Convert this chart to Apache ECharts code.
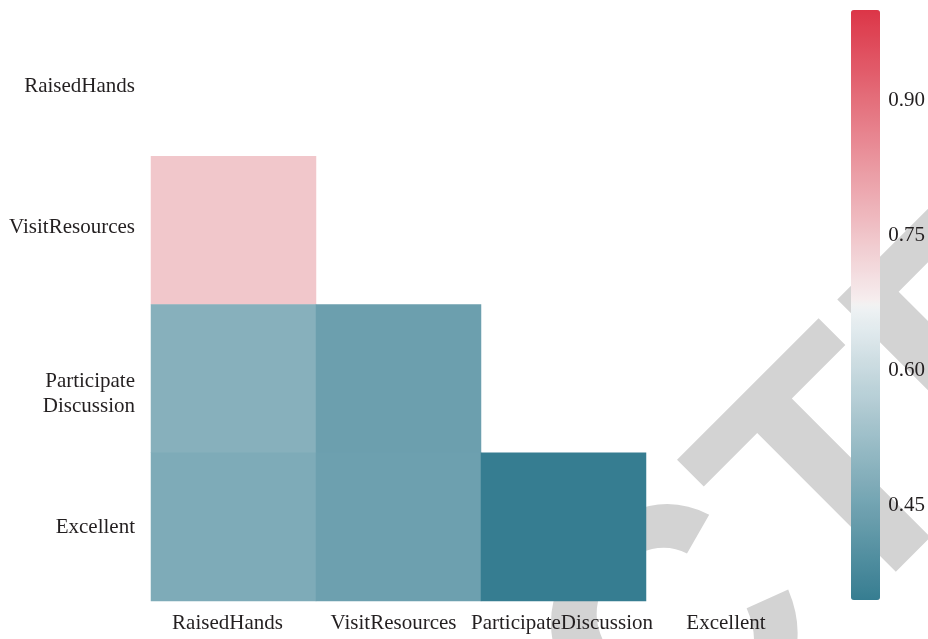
<!DOCTYPE html>
<html>
<head>
<meta charset="utf-8">
<script src="https://cdn.jsdelivr.net/npm/echarts@6/dist/echarts.min.js"></script>
<style>
  html, body { margin: 0; padding: 0; background: #ffffff; }
  #chart { width: 928px; height: 639px; }
</style>
</head>
<body>
<div id="chart"></div>
<script>
// Feature names on the two axes
const colLabels = ['RaisedHands', 'VisitResources', 'ParticipateDiscussion', 'Excellent'];
const rowLabels = ['RaisedHands', 'VisitResources', 'Participate\nDiscussion', 'Excellent'];

// Lower triangle of the correlation matrix, one array per row (row 0 is fully masked)
const rowVisitResources        = [0.746];
const rowParticipateDiscussion = [0.487, 0.439];
const rowExcellent             = [0.471, 0.442, 0.345];

// Colour scale range and the ticks shown beside the colour bar
const scaleMin = 0.345;
const scaleMax = 1.0;
const scaleTicks = [0.45, 0.60, 0.75, 0.90];

const lowerRows = [[], rowVisitResources, rowParticipateDiscussion, rowExcellent];
const cells = [];
lowerRows.forEach((vals, r) => vals.forEach((v, c) => cells.push([c, r, v])));

// Diverging blue - light - red ramp (blended linearly on each side of the light centre)
function hexToRgb(h) { return [1, 3, 5].map(i => parseInt(h.slice(i, i + 2), 16)); }
function rgbToHex(c) { return '#' + c.map(v => Math.round(v).toString(16).padStart(2, '0')).join(''); }
function ramp(a, b, n) {
  const A = hexToRgb(a), B = hexToRgb(b), out = [];
  for (let i = 0; i < n; i++) {
    const t = i / (n - 1);
    out.push(rgbToHex(A.map((v, k) => v + (B[k] - v) * t)));
  }
  return out;
}
const steps = 64;
const rampColors = []
  .concat(ramp('#367d91', '#eef2f4', steps))
  .concat(['#f2f2f2'])
  .concat(ramp('#f6eeef', '#dc3547', steps));

const textColor = '#231f20';
const labelFont = 'Liberation Serif';
const labelSize = 21;

// small per-label nudges (padding) for the tick labels
const colLabelPad = [[0, 12, 0, 0], [0, 10, 0, 0], [0, 3, 0, 0], [0, 5, 0, 0]];
const rowLinePad = [
  [[9, 0, 0, 0]],
  [[0, 0, 5, 0]],
  [[30, 0, 0, 0], [30, 0, 0, 0]],
  [[1, 0, 0, 0]]
];
const rowRich = {};
rowLinePad.forEach((lines, i) => lines.forEach((pad, k) => {
  rowRich['r' + i + '_' + k] = {
    color: textColor, fontFamily: labelFont, fontSize: labelSize, lineHeight: 25, padding: pad, align: 'right'
  };
}));

const chart = echarts.init(document.getElementById('chart'), null, { renderer: 'canvas' });
chart.setOption({
  backgroundColor: '#ffffff',
  animation: false,
  graphic: [{
    type: 'text',
    x: 513,
    y: 822,
    rotation: Math.PI / 4,
    z: -1,
    silent: true,
    style: {
      text: 'RETRACTED',
      font: 'bold 340px "Liberation Sans"',
      fill: '#d3d3d3',
      align: 'center',
      verticalAlign: 'middle'
    }
  }],
  grid: [
    { left: 151, top: 8, width: 660, height: 593 },
    { left: 851, top: 10, width: 29, height: 590 }
  ],
  xAxis: [{
    type: 'category',
    gridIndex: 0,
    data: colLabels.map((name, i) => ({ value: name, textStyle: { padding: colLabelPad[i] } })),
    position: 'bottom',
    axisLine: { show: false },
    axisTick: { show: false },
    splitLine: { show: false },
    axisLabel: { color: textColor, fontFamily: labelFont, fontSize: labelSize, margin: 12, interval: 0 }
  }, {
    type: 'value',
    gridIndex: 1,
    show: false
  }],
  yAxis: [{
    type: 'category',
    gridIndex: 0,
    data: rowLabels,
    inverse: true,
    axisLine: { show: false },
    axisTick: { show: false },
    splitLine: { show: false },
    axisLabel: {
      color: textColor, fontFamily: labelFont, fontSize: labelSize, margin: 16,
      lineHeight: 25, interval: 0,
      formatter: (value, index) => value.split('\n')
        .map((line, k) => '{r' + index + '_' + k + '|' + line + '}').join('\n'),
      rich: rowRich
    }
  }, {
    type: 'value',
    gridIndex: 1,
    position: 'right',
    min: scaleMin,
    max: scaleMax,
    axisLine: { show: false },
    axisTick: { show: false },
    splitLine: { show: false },
    axisLabel: {
      customValues: scaleTicks,
      color: textColor, fontFamily: labelFont, fontSize: labelSize, margin: 11,
      formatter: v => v.toFixed(2)
    }
  }],
  visualMap: {
    type: 'continuous',
    seriesIndex: 0,
    min: scaleMin,
    max: scaleMax,
    calculable: false,
    orient: 'vertical',
    left: 851,
    top: 10,
    itemWidth: 29,
    itemHeight: 590,
    padding: 0,
    inRange: { color: rampColors }
  },
  series: [{
    type: 'heatmap',
    xAxisIndex: 0,
    yAxisIndex: 0,
    data: cells,
    itemStyle: { borderWidth: 0 },
    emphasis: { disabled: true }
  }]
});
</script>
</body>
</html>
